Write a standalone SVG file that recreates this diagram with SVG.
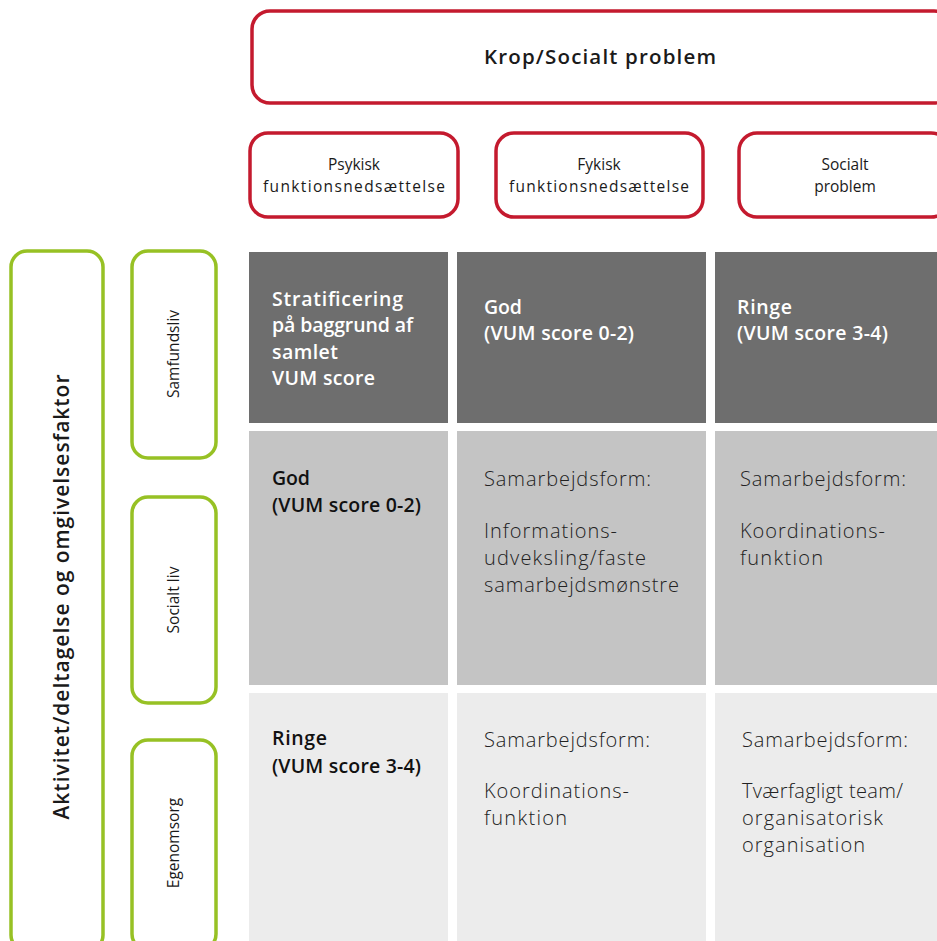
<svg xmlns="http://www.w3.org/2000/svg" width="937" height="941" viewBox="0 0 937 941">
<style>
.red{fill:#fff;stroke:#c41a2e;stroke-width:3.5}
.grn{fill:#fff;stroke:#97c124;stroke-width:3.5}
.t{font-family:"Open Sans","Noto Sans",sans-serif;fill:#1a1a1a}
.hb{font-family:"Open Sans","Noto Sans",sans-serif;font-weight:600;font-size:19.5px}
.lt{font-family:"Open Sans","Noto Sans",sans-serif;font-weight:300;font-size:20px;fill:#222}
.w{fill:#fff}
.k{fill:#111}
.sm{font-size:15.5px}
</style>
<rect width="937" height="941" fill="#fff"/>
<g id="krop">
<rect class="red" x="252" y="11" width="700" height="92" rx="18"/>
<text class="t" x="600" y="64" text-anchor="middle" font-size="20.5" font-weight="600" textLength="232">Krop/Socialt problem</text>
</g>
<g id="psykisk">
<rect class="red" x="250" y="133" width="208" height="84" rx="18"/>
<text class="t sm" text-anchor="middle"><tspan x="354" y="170">Psykisk</tspan><tspan x="354" y="192" textLength="182">funktionsnedsættelse</tspan></text>
</g>
<g id="fysisk">
<rect class="red" x="496" y="133" width="207" height="84" rx="18"/>
<text class="t sm" text-anchor="middle"><tspan x="599" y="170">Fykisk</tspan><tspan x="599" y="192" textLength="180">funktionsnedsættelse</tspan></text>
</g>
<g id="socialt">
<rect class="red" x="739" y="133" width="210" height="84" rx="18"/>
<text class="t sm" text-anchor="middle"><tspan x="845" y="170">Socialt</tspan><tspan x="845" y="192">problem</tspan></text>
</g>
<g id="aktivitet">
<rect class="grn" x="11" y="251" width="92" height="700" rx="16"/>
<text class="t" transform="translate(69,597) rotate(-90)" text-anchor="middle" font-size="21" font-weight="600" textLength="445">Aktivitet/deltagelse og omgivelsesfaktor</text>
</g>
<g id="samfundsliv">
<rect class="grn" x="132" y="251" width="84" height="207" rx="16"/>
<text class="t sm" transform="translate(179,354) rotate(-90)" text-anchor="middle">Samfundsliv</text>
</g>
<g id="socialtliv">
<rect class="grn" x="132" y="497" width="84" height="206" rx="16"/>
<text class="t sm" transform="translate(179,600) rotate(-90)" text-anchor="middle">Socialt liv</text>
</g>
<g id="egenomsorg">
<rect class="grn" x="132" y="740" width="84" height="210" rx="16"/>
<text class="t sm" transform="translate(179,843) rotate(-90)" text-anchor="middle">Egenomsorg</text>
</g>
<g id="h-strat">
<rect x="249" y="252" width="199" height="171" fill="#6e6e6e"/>
<text class="hb w"><tspan x="272" y="306" textLength="131">Stratificering</tspan><tspan x="272" y="332" textLength="141">på baggrund af</tspan><tspan x="272" y="359" textLength="66">samlet</tspan><tspan x="272" y="385" textLength="103">VUM score</tspan></text>
</g>
<g id="h-god">
<rect x="457" y="252" width="249" height="171" fill="#6e6e6e"/>
<text class="hb w"><tspan x="484" y="314" textLength="38">God</tspan><tspan x="484" y="340" textLength="150">(VUM score 0-2)</tspan></text>
</g>
<g id="h-ringe">
<rect x="715" y="252" width="222" height="171" fill="#6e6e6e"/>
<text class="hb w"><tspan x="737" y="314" textLength="55">Ringe</tspan><tspan x="737" y="340" textLength="151">(VUM score 3-4)</tspan></text>
</g>
<g id="r-god">
<rect x="249" y="431" width="199" height="254" fill="#c4c4c4"/>
<text class="hb k"><tspan x="272" y="485" textLength="38">God</tspan><tspan x="272" y="512" textLength="149">(VUM score 0-2)</tspan></text>
</g>
<g id="c-god-god">
<rect x="457" y="431" width="249" height="254" fill="#c4c4c4"/>
<text class="lt"><tspan x="484" y="486" textLength="167">Samarbejdsform:</tspan><tspan x="484" y="538" textLength="133">Informations-</tspan><tspan x="484" y="565" textLength="162">udveksling/faste</tspan><tspan x="484" y="592" textLength="195">samarbejdsmønstre</tspan></text>
</g>
<g id="c-god-ringe">
<rect x="715" y="431" width="222" height="254" fill="#c4c4c4"/>
<text class="lt"><tspan x="740" y="486" textLength="166">Samarbejdsform:</tspan><tspan x="740" y="538" textLength="145">Koordinations-</tspan><tspan x="740" y="565" textLength="83">funktion</tspan></text>
</g>
<g id="r-ringe">
<rect x="249" y="693" width="199" height="248" fill="#ececec"/>
<text class="hb k"><tspan x="272" y="745" textLength="55">Ringe</tspan><tspan x="272" y="773" textLength="149">(VUM score 3-4)</tspan></text>
</g>
<g id="c-ringe-god">
<rect x="457" y="693" width="249" height="248" fill="#ececec"/>
<text class="lt"><tspan x="484" y="747" textLength="166">Samarbejdsform:</tspan><tspan x="484" y="798" textLength="145">Koordinations-</tspan><tspan x="484" y="825" textLength="83">funktion</tspan></text>
</g>
<g id="c-ringe-ringe">
<rect x="715" y="693" width="222" height="248" fill="#ececec"/>
<text class="lt"><tspan x="742" y="747" textLength="166">Samarbejdsform:</tspan><tspan x="742" y="798" textLength="161">Tværfagligt team/</tspan><tspan x="742" y="825" textLength="141">organisatorisk</tspan><tspan x="742" y="852" textLength="123">organisation</tspan></text>
</g>
<g id="connectors"></g>
</svg>
